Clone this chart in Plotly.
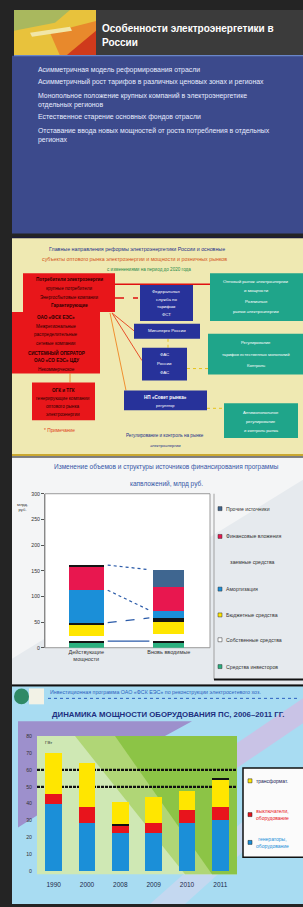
import plotly.graph_objects as go

W, H = 303, 907


def X(px):
    return px / W


def Y(py):
    return 1 - py / H


# ---------------- data: chart 3 (stacked, two columns) ----------------
c3_categories = ["Действующие<br>мощности", "Вновь вводимые"]
c3_green = [10, 9]
c3_black1 = [3, 4]
c3_white = [10, 14]
c3_yellow = [21, 24]
c3_black2 = [5, 7]
c3_blue = [63, 15]
c3_red = [45, 45]
c3_top = [4, 34]
c3_yticks = [0, 50, 100, 150, 200, 250, 300]
c3_legend = ["Прочие источники", "Финансовые вложения", "заемные средства",
             "Амортизация", "Бюджетные средства", "Собственные средства",
             "Средства инвесторов"]

# ---------------- data: chart 4 (stacked, six years) ----------------
c4_years = ["1990", "2000", "2008", "2009", "2010", "2011"]
c4_blue = [39.6, 28.4, 22.5, 22.5, 28.4, 30.2]
c4_red = [5.9, 9.5, 4.7, 5.9, 7.7, 7.7]
c4_black_mid = [0, 0, 0.6, 0, 0, 0]
c4_yellow = [24.3, 26.0, 13.0, 15.4, 11.2, 16.0]
c4_black_top = [0, 0, 0, 0, 0, 1.2]
c4_yticks = [0, 10, 20, 30, 40, 50, 60, 70, 80]
c4_limits = [50, 60]
c4_legend = ["трансформат.", "выключатели,<br>оборудование",
             "генераторы,<br>оборудование"]

FONT = "Liberation Sans"
shapes = []
anns = []


def rect(x0, y0, x1, y1, fill, line=None, lw=0, layer="below"):
    shapes.append(dict(type="rect", xref="paper", yref="paper",
                       x0=X(x0), x1=X(x1), y0=Y(y0), y1=Y(y1),
                       fillcolor=fill, layer=layer,
                       line=dict(color=line or fill, width=lw)))


def poly(pts, fill, layer="below"):
    p = "M " + " L ".join(f"{X(a):.5f},{Y(b):.5f}" for a, b in pts) + " Z"
    shapes.append(dict(type="path", xref="paper", yref="paper", path=p,
                       fillcolor=fill, line=dict(width=0), layer=layer))


def seg(x0, y0, x1, y1, color, w=1, dash="solid", layer="below"):
    shapes.append(dict(type="line", xref="paper", yref="paper",
                       x0=X(x0), x1=X(x1), y0=Y(y0), y1=Y(y1), layer=layer,
                       line=dict(color=color, width=w, dash=dash)))


def txt(t, x, y, size, color, anchor="left", bold=False, family=FONT):
    if bold:
        t = "<b>" + t + "</b>"
    anns.append(dict(text=t, x=X(x), y=Y(y), xref="paper", yref="paper",
                     xanchor=anchor, yanchor="middle", showarrow=False,
                     font=dict(size=size, color=color, family=family)))


# ================= page background =================
rect(0, 0, 303, 907, "#242424")

# ================= panel 1 =================
rect(12, 53, 303, 232, "#3c4a8c")
rect(96, 7, 303, 53, "#3b3b3b")
rect(14, 7, 96, 53, "#e8c23c")
poly([(14, 7), (70, 7), (55, 20), (14, 28)], "#a9b85e")
poly([(50, 30), (96, 18), (96, 53), (60, 53)], "#e8892c")
poly([(66, 53), (96, 28), (96, 53)], "#cf3a1c")
poly([(30, 30), (70, 24), (72, 28), (32, 34)], "#f1e6a8")
seg(14, 53, 303, 53, "#6a86c8", 1.2)
txt("Особенности электроэнергетики в", 100, 26, 10, "#ffffff", bold=True)
txt("России", 100, 40, 10, "#ffffff", bold=True)
bul = [("Асимметричная модель реформирования отрасли", 67),
       ("Асимметричный рост тарифов в различных ценовых зонах и регионах", 80),
       ("Монопольное положение крупных компаний в электроэнергетике", 94),
       ("отдельных регионов", 103),
       ("Естественное старение основных фондов отрасли", 115),
       ("Отставание ввода новых мощностей от роста потребления в отдельных", 129),
       ("регионах", 138)]
for t, yy in bul:
    txt(t, 36, yy, 6.9, "#e8ecff")

# ================= panel 2 =================
rect(12, 236, 303, 455, "#efe9b2")
seg(12, 236, 303, 236, "#1b1b3a", 1.5)
txt("Главные направления реформы электроэнергетики России и основные", 47, 248, 5.3, "#23308a")
txt("субъекты оптового рынка электроэнергии и мощности и розничных рынков", 40, 258, 5.3, "#d2541c")
txt("с изменениями на период до 2020 года", 105, 268, 4.6, "#2a8a4a")
# connectors
seg(115, 283, 210, 283, "#e01010", 1.5)
seg(115, 297, 138, 297, "#e01010", 1.5, "dash")
seg(112, 312, 134, 330, "#e8502a", 1)
seg(112, 312, 142, 360, "#e8502a", 1)
seg(110, 312, 126, 390, "#f09030", 1)
seg(70, 373, 70, 382, "#f09030", 1)
seg(187, 368, 208, 368, "#e6c21a", 1, "dot")
seg(207, 408, 224, 408, "#e6c21a", 1, "dot")
seg(168, 338, 168, 347, "#e6c21a", 1, "dot")
# red boxes
rect(23, 272, 115, 311, "#e8161a")
rect(12, 311, 100, 373, "#e8161a")
rect(32, 382, 95, 420, "#e8161a")
for t, yy, b in [("Потребители электроэнергии", 278, True), ("крупные потребители", 287, False),
                 ("Энергосбытовые компании", 296, False), ("Гарантирующие", 305, True)]:
    txt(t, 69, yy, 4.6, "#2a0000", "center", b)
for t, yy, b in [("ОАО «ФСК ЕЭС»", 317, True), ("Межрегиональные", 326, False),
                 ("распределительные", 334, False), ("сетевые компании", 343, False),
                 ("СИСТЕМНЫЙ ОПЕРАТОР", 352, True), ("ОАО «СО ЕЭС» ЦДУ", 360, True),
                 ("Некоммерческое", 369, False)]:
    txt(t, 56, yy, 4.6, "#2a0000", "center", b)
for t, yy, b in [("ОГК и ТГК", 390, True), ("генерирующие компании", 398, False),
                 ("оптового рынка", 406, False), ("электроэнергии", 414, False)]:
    txt(t, 63, yy, 4.6, "#2a0000", "center", b)
txt("* Примечание", 42, 430, 4.8, "#e0401a")
# blue boxes
rect(140, 284, 193, 320, "#27329a")
rect(134, 323, 200, 338, "#27329a")
rect(142, 347, 187, 380, "#27329a")
rect(124, 390, 207, 410, "#27329a")
for t, yy in [("Федеральная", 290), ("служба по", 298), ("тарифам", 306), ("ФСТ", 314)]:
    txt(t, 166, yy, 4.4, "#ffffff", "center")
txt("Минэнерго России", 167, 330, 4.4, "#ffffff", "center")
for t, yy in [("ФАС", 354), ("России", 363), ("ФАС", 372)]:
    txt(t, 164, yy, 4.4, "#ffffff", "center")
txt("НП «Совет рынка»", 165, 397, 4.6, "#ffffff", "center", True)
txt("регулятор", 165, 405, 4.0, "#ffffff", "center")
# green boxes
rect(210, 272, 304, 320, "#1fa58a")
rect(208, 333, 304, 374, "#1fa58a")
rect(224, 403, 298, 438, "#1fa58a")
for t, yy in [("Оптовый рынок электроэнергии", 280), ("и мощности", 289),
              ("Розничные", 300), ("рынки электроэнергии", 311)]:
    txt(t, 256, yy, 4.4, "#ffffff", "center")
for t, yy in [("Регулирование", 342), ("тарифов естественных монополий", 354), ("Контроль", 365)]:
    txt(t, 256, yy, 4.2, "#ffffff", "center")
for t, yy in [("Антимонопольное", 412), ("регулирование", 421), ("и контроль рынка", 430)]:
    txt(t, 261, yy, 4.2, "#ffffff", "center")
txt("Регулирование и контроль на рынке", 165, 435, 4.6, "#23308a", "center")
txt("электроэнергии", 165, 445, 4.2, "#23308a", "center")

# ================= panel 3 =================
rect(12, 456, 303, 686, "#e6eaee")
poly([(12, 457), (303, 457), (303, 480), (12, 660)], "#f4f5f6")
seg(12, 455, 303, 455, "#caa830", 2)
seg(12, 457, 303, 457, "#111111", 1.2)
seg(12, 687, 303, 687, "#111111", 1.5)
rect(45, 494, 210, 649, "#ffffff", "#9a9a9a", 1)
# legend frame
seg(214, 494, 214, 681, "#a0a0a0", 1)
seg(214, 681, 304, 681, "#111111", 2)
txt("Изменение объемов и структуры источников финансирования программы", 166, 467, 6.5, "#3456a6", "center")
txt("капвложений, млрд руб.", 166, 484, 6.5, "#3456a6", "center")
txt("млрд.<br>руб.", 22, 507, 4.2, "#333333", "center")
c3_colors = ["#3f6690", "#e8174f", None, "#1b8fd8", "#ffe600", "#ffffff", "#2bb07f"]
c3_ly = [509, 537, 563, 590, 616, 641, 668]
for i, (lab, yy) in enumerate(zip(c3_legend, c3_ly)):
    col = c3_colors[i]
    if col:
        rect(218, yy - 2, 222, yy + 2, col, "#333333", 0.5)
        txt(lab, 224, yy, 5.2, "#333333")
    else:
        txt(lab, 228, yy, 5.2, "#333333")

# ================= panel 4 =================
rect(12, 688, 303, 907, "#a8dcf2")
poly([(150, 907), (303, 770), (303, 800), (185, 907)], "#c4d8f0")
poly([(237, 745), (303, 700), (303, 725), (237, 770)], "#c9c3e6")
poly([(18, 723), (192, 723), (165, 738), (37, 738), (37, 818), (18, 830)], "#9d90cc")
# plot area (green)
rect(37, 738, 237, 877, "#cfe8b4")
poly([(75, 738), (237, 738), (237, 877), (185, 877)], "#b0d676")
poly([(115, 738), (237, 738), (237, 877), (212, 877)], "#8cc446")
# icon + header
shapes.append(dict(type="circle", xref="paper", yref="paper", x0=X(14), x1=X(29),
                   y0=Y(706), y1=Y(690), fillcolor="#2f8a66", line=dict(width=0), layer="below"))
rect(29, 690, 44, 706, "#f2f2e6")
txt("Инвестиционная программа ОАО «ФСК ЕЭС» по реконструкции электросетевого хоз.", 48, 694, 5.3, "#2d62c0")
seg(48, 700, 300, 700, "#2d62c0", 1, "dot")
txt("ДИНАМИКА МОЩНОСТИ ОБОРУДОВАНИЯ ПС, 2006–2011 ГГ.", 50, 716, 7.8, "#1d2f80", bold=True)
txt("ГВт", 43, 744, 4.4, "#333333")
# legend
rect(243, 770, 306, 860, "#fbfbfb", "#111111", 1.5)
c4_lc = ["#ffe600", "#e8141c", "#1b8fd8"]
c4_tc = ["#222255", "#e8141c", "#1b8fd8"]
c4_ly = [783, 817, 845]
for lab, yy, c, tc in zip(c4_legend, c4_ly, c4_lc, c4_tc):
    rect(248, yy - 2, 252, yy + 2, c, "#222222", 0.5)
    txt(lab, 254, yy, 5.0, tc)

# reference lines (below bars)
for v in c4_limits:
    shapes.append(dict(type="line", xref="x2 domain", yref="y2", x0=0, x1=1, y0=v, y1=v,
                       line=dict(color="#111111", width=2.2, dash="3px,1px"), layer="below"))

# ================= traces =================
fig = go.Figure()
c3_x = [0, 1]
c3_w = [0.42, 0.37]
c3_series = [
    (c3_green, "#2bb07f"), (c3_black1, "#151515"), (c3_white, "#ffffff"),
    (c3_yellow, "#ffe600"), (c3_black2, "#151515"), (c3_blue, "#1b8fd8"),
    (c3_red, "#e8174f"), (c3_top, ["#151515", "#3f6690"]),
]
for vals, col in c3_series:
    fig.add_trace(go.Bar(x=c3_x, y=vals, width=c3_w, marker=dict(color=col, line=dict(width=0)),
                         xaxis="x", yaxis="y", showlegend=False, hoverinfo="skip"))

# series lines between the two columns
cum = []
acc = [0, 0]
for vals, _ in c3_series:
    acc = [acc[0] + vals[0], acc[1] + vals[1]]
    cum.append(list(acc))
sx = [c3_x[0] + c3_w[0] / 2 + 0.05, c3_x[1] - c3_w[1] / 2 - 0.05]
for idx, dash in [(7, "dot"), (5, "dot"), (4, "dash"), (1, "solid")]:
    fig.add_trace(go.Scatter(x=sx, y=cum[idx], mode="lines", xaxis="x", yaxis="y",
                             line=dict(color="#2a5aa8", width=1.2, dash=dash),
                             showlegend=False, hoverinfo="skip"))

c4_x = list(range(len(c4_years)))
for vals, col in [(c4_blue, "#1b8fd8"), (c4_red, "#e8141c"), (c4_black_mid, "#111111"),
                  (c4_yellow, "#ffe600"), (c4_black_top, "#111111")]:
    fig.add_trace(go.Bar(x=c4_x, y=vals, width=0.5, marker=dict(color=col, line=dict(width=0)),
                         xaxis="x2", yaxis="y2", showlegend=False, hoverinfo="skip"))

fig.update_layout(
    width=W, height=H, margin=dict(l=0, r=0, t=0, b=0),
    paper_bgcolor="#242424", plot_bgcolor="rgba(0,0,0,0)",
    barmode="stack", bargap=0, showlegend=False,
    shapes=shapes, annotations=anns,
    font=dict(family=FONT),
    xaxis=dict(domain=[X(45), X(210)], range=[-0.5, 1.5], tickvals=c3_x,
               ticktext=c3_categories, tickfont=dict(size=5.5, color="#333333"),
               showgrid=False, zeroline=False, showline=False, ticks="", fixedrange=True),
    yaxis=dict(domain=[Y(649), Y(494)], range=[0, 300], tickvals=c3_yticks,
               tickfont=dict(size=5.2, color="#333333"), showgrid=False, zeroline=False,
               ticks="outside", ticklen=3, tickcolor="#555555", showline=True,
               linecolor="#888888", linewidth=1),
    xaxis2=dict(domain=[X(37), X(237)], range=[-0.5, 5.5], tickvals=c4_x, ticktext=c4_years,
                tickfont=dict(size=6.5, color="#1a2a4a"), showgrid=False, zeroline=False,
                showline=False, ticks="", anchor="y2", ticklabelstandoff=8),
    yaxis2=dict(domain=[Y(874), Y(738)], range=[0, 80], tickvals=c4_yticks,
                tickfont=dict(size=5.2, color="#333333"), showgrid=False, zeroline=False,
                showline=False, ticks="", anchor="x2", ticklabelstandoff=4),
)

fig.write_html("out.html", config={"displayModeBar": False},
               post_script="document.body.style.margin='0px';document.body.style.overflow='hidden';")
